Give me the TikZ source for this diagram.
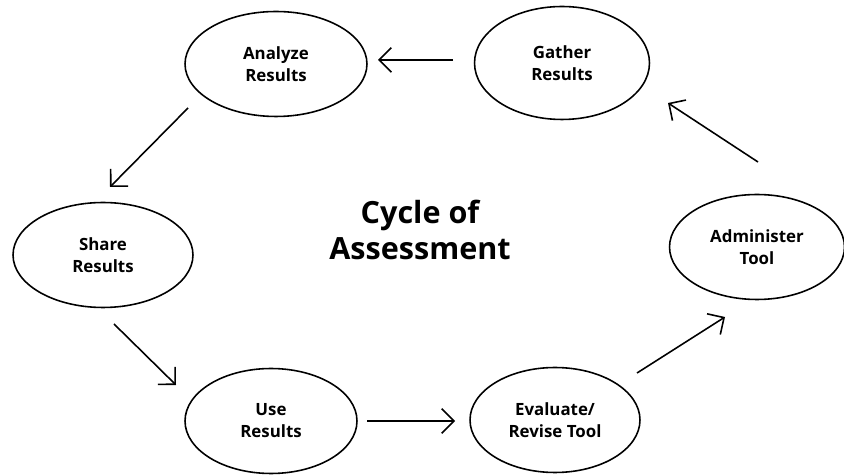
\documentclass[tikz,border=0pt]{standalone}
\usepackage{fontspec}
\setmainfont{Open Sans}
\usetikzlibrary{shapes.geometric,arrows.meta}
\newcommand{\figuresize}{0.02cm}

\begin{document}
\begin{tikzpicture}[x=\figuresize,y=-\figuresize,
	stage/.style={ellipse, draw, line width=0.9pt, minimum width=3.5cm, minimum height=2.1cm, inner sep=0pt, align=center, font=\bfseries\fontsize{9.6}{12.5}\selectfont},
	flow/.style={-{Straight Barb[length=7pt,width=14pt]}, line width=0.9pt}]
	\useasboundingbox (0,0) rectangle (844,475);

	\node[stage, minimum width=3.64cm] (Analyze) at (276,64) {Analyze\\Results};
	\node[stage, minimum height=2.26cm] (Gather) at (562,63) {Gather\\Results};
	\node[stage, minimum width=3.6cm] (Share) at (103,255) {Share\\Results};
	\node[stage] (Admin) at (757,247) {Administer\\Tool};
	\node[stage, minimum width=3.44cm] (Use) at (271,421) {Use\\Results};
	\node[stage, minimum width=3.4cm] (Evaluate) at (555,420) {Evaluate/\\Revise Tool};
	\node[align=center, font=\bfseries\fontsize{17.4}{20.4}\selectfont] (Title) at (420,230) {Cycle of\\Assessment};

	\coordinate (GAstart) at (453,60); \coordinate (GAend) at (378,60);
	\coordinate (ASstart) at (188,108); \coordinate (ASend) at (110,187);
	\coordinate (SUstart) at (114,324); \coordinate (SUend) at (176,385);
	\coordinate (UEstart) at (367,421); \coordinate (UEend) at (455,421);
	\coordinate (EAstart) at (637,373); \coordinate (EAend) at (725,317);
	\coordinate (AGstart) at (758,162); \coordinate (AGend) at (668,103);

	\draw[flow] (GAstart) -- (GAend);
	\draw[flow] (ASstart) -- (ASend);
	\draw[flow] (SUstart) -- (SUend);
	\draw[flow] (UEstart) -- (UEend);
	\draw[flow] (EAstart) -- (EAend);
	\draw[flow] (AGstart) -- (AGend);
\end{tikzpicture}
\end{document}
